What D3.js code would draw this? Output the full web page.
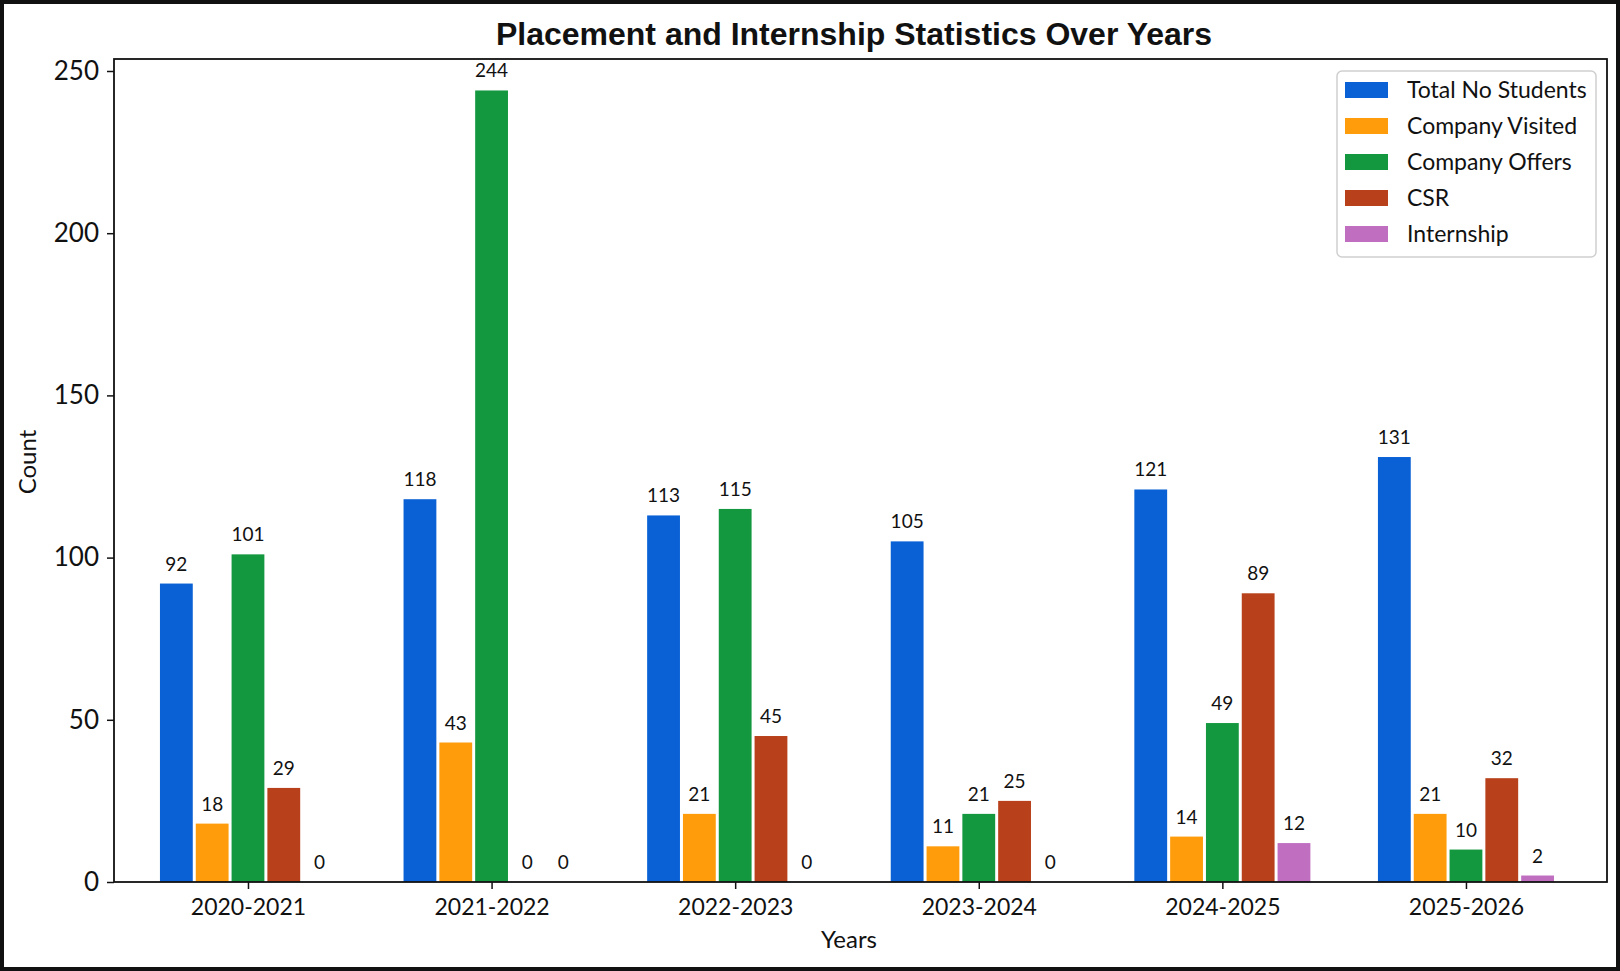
<!DOCTYPE html>
<html>
<head>
<meta charset="utf-8">
<script src="https://cdn.jsdelivr.net/npm/d3@7"></script>
<style>
  html, body { margin: 0; padding: 0; background: #fff; }
  svg { display: block; }
</style>
</head>
<body>
<svg id="chart" width="1620" height="971"></svg>
<script>
const years = ['2020-2021', '2021-2022', '2022-2023', '2023-2024', '2024-2025', '2025-2026'];
const seriesNames = ['Total No Students', 'Company Visited', 'Company Offers', 'CSR', 'Internship'];
const totalStudents = [92, 118, 113, 105, 121, 131];
const companyVisited = [18, 43, 21, 11, 14, 21];
const companyOffers = [101, 244, 115, 21, 49, 10];
const csr = [29, 0, 45, 25, 89, 32];
const internship = [0, 0, 0, 0, 12, 2];
const yTicks = [0, 50, 100, 150, 200, 250];
const colors = ['#0961d5', '#ff9c0b', '#13983f', '#b8401a', '#c06ec0'];

const series = [totalStudents, companyVisited, companyOffers, csr, internship];

const svg = d3.select('#chart');
const W = 1620, H = 971;
const plot = { left: 114, right: 1607, top: 59, bottom: 882 };
const font = 'Lato, "Open Sans", sans-serif';
const barStep = 0.147;

// outer frame
svg.append('rect').attr('x', 2).attr('y', 2).attr('width', W - 4).attr('height', H - 4)
  .attr('fill', '#fff').attr('stroke', '#111').attr('stroke-width', 4);

const x = d3.scaleLinear().domain([-0.55, 5.579]).range([plot.left, plot.right]);
const y = d3.scaleLinear().domain([0, 250]).range([plot.bottom, 71]);
const unit = x(1) - x(0);
const bw = barStep * unit - 3;

// bars
const g = svg.append('g');
series.forEach((vals, j) => {
  const off = (j - 2) * barStep;
  g.selectAll('.bar' + j).data(vals).enter().append('rect')
    .attr('x', (d, i) => x(i + off) - bw / 2)
    .attr('y', d => y(d))
    .attr('width', bw)
    .attr('height', d => y(0) - y(d))
    .attr('fill', colors[j]);
  g.selectAll('.lab' + j).data(vals).enter().append('text')
    .attr('x', (d, i) => x(i + off))
    .attr('y', d => y(d) - 13)
    .attr('text-anchor', 'middle')
    .attr('font-family', font).attr('font-size', 19).attr('fill', '#111')
    .text(d => d);
});

// axes box
svg.append('rect').attr('x', plot.left).attr('y', plot.top)
  .attr('width', plot.right - plot.left).attr('height', plot.bottom - plot.top)
  .attr('fill', 'none').attr('stroke', '#111').attr('stroke-width', 1.8);

// y axis
const yAxis = d3.axisLeft(y).tickValues(yTicks).tickSize(7).tickPadding(8);
const ya = svg.append('g').attr('transform', `translate(${plot.left},0)`).call(yAxis);
ya.select('.domain').remove();
ya.selectAll('line').attr('stroke', '#111').attr('stroke-width', 1.5);
ya.selectAll('text').attr('font-family', font).attr('font-size', 26).attr('fill', '#111');

// x axis
const xAxis = d3.axisBottom(x).tickValues(d3.range(years.length)).tickFormat(i => years[i]).tickSize(7).tickPadding(10);
const xa = svg.append('g').attr('transform', `translate(0,${plot.bottom})`).call(xAxis);
xa.select('.domain').remove();
xa.selectAll('line').attr('stroke', '#111').attr('stroke-width', 1.5);
xa.selectAll('text').attr('font-family', font).attr('font-size', 23).attr('fill', '#111');

// axis labels
svg.append('text').attr('x', 849).attr('y', 948).attr('text-anchor', 'middle')
  .attr('font-family', font).attr('font-size', 24).attr('fill', '#111').text('Years');
svg.append('text').attr('transform', 'translate(36,462) rotate(-90)').attr('text-anchor', 'middle')
  .attr('font-family', font).attr('font-size', 24).attr('fill', '#111').text('Count');

// title
svg.append('text').attr('x', 854).attr('y', 45).attr('text-anchor', 'middle')
  .attr('font-family', '"Liberation Sans", Arial, sans-serif').attr('font-weight', 'bold')
  .attr('font-size', 32).attr('fill', '#111').text('Placement and Internship Statistics Over Years');

// legend
const lg = svg.append('g');
lg.append('rect').attr('x', 1337).attr('y', 71).attr('width', 259).attr('height', 186)
  .attr('rx', 5).attr('fill', '#fff').attr('stroke', '#cfcfcf').attr('stroke-width', 1.5);
seriesNames.forEach((name, j) => {
  const cy = 90 + 36 * j;
  lg.append('rect').attr('x', 1345).attr('y', cy - 8).attr('width', 43).attr('height', 16).attr('fill', colors[j]);
  lg.append('text').attr('x', 1407).attr('y', cy).attr('dy', '0.35em')
    .attr('font-family', font).attr('font-size', 23).attr('fill', '#111').text(name);
});
</script>
</body>
</html>
